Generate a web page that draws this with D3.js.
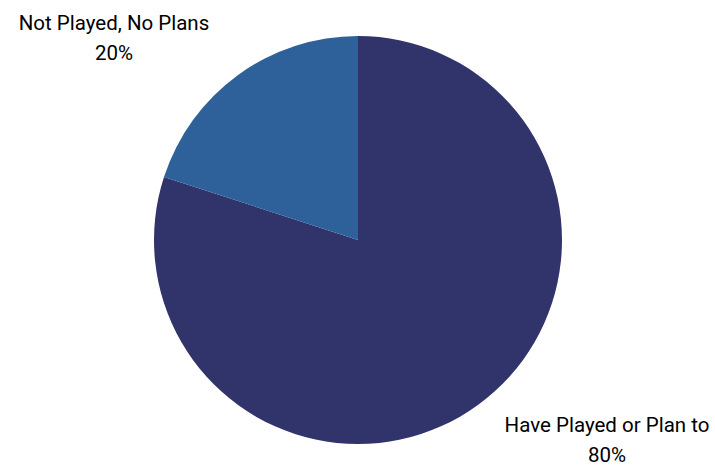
<!DOCTYPE html>
<html><head><meta charset="utf-8">
<script src="https://cdn.jsdelivr.net/npm/d3@7"></script>
<style>body{margin:0;background:#fff;}svg{display:block;}</style>
</head><body>
<svg id="c" width="715" height="466"></svg>
<script>
const categories = ["Have Played or Plan to", "Not Played, No Plans"];
const values = [80, 20];
const percentLabels = ["80%", "20%"];
const colors = ["#31336b", "#2e6099"];

const svg = d3.select("#c");
const cx = 358, cy = 240, r = 204;
const pie = d3.pie().sort(null).value(d => d.v);
const arcs = pie(categories.map((c, i) => ({c, v: values[i], i})));
const arc = d3.arc().innerRadius(0).outerRadius(r);
const g = svg.append("g").attr("transform", `translate(${cx},${cy})`);
g.selectAll("path").data(arcs).join("path")
  .attr("d", arc).attr("fill", d => colors[d.data.i]);

const labelPos = [[607, 432], [114, 30]];
const lg = svg.append("g").attr("font-family", "Roboto, sans-serif").attr("font-size", 20.5)
  .attr("font-weight", 400).attr("fill", "#000").attr("text-anchor", "middle");
arcs.forEach((d, k) => {
  const [x, y] = labelPos[d.data.i];
  const t = lg.append("text").attr("x", x).attr("y", y);
  t.append("tspan").attr("x", x).text(d.data.c);
  t.append("tspan").attr("x", x).attr("dy", 30).text(percentLabels[d.data.i]);
});
</script>
</body></html>
